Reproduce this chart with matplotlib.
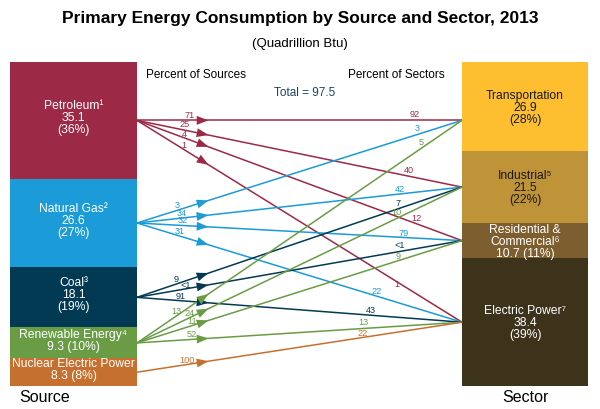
import matplotlib.pyplot as plt

plt.rcParams['font.family'] = ['Liberation Sans', 'DejaVu Sans']

# source side
sources = ["Petroleum¹", "Natural Gas²", "Coal³", "Renewable Energy⁴", "Nuclear Electric Power"]
source_values = [35.1, 26.6, 18.1, 9.3, 8.3]
source_pct = [36, 27, 19, 10, 8]

# sector side
sectors = ["Transportation", "Industrial⁵", "Residential &\nCommercial⁶", "Electric Power⁷"]
sector_values = [26.9, 21.5, 10.7, 38.4]
sector_pct = [28, 22, 11, 39]

# flows: source index -> sector index, percent of source, percent of sector
flow_source = [0, 0, 0, 0, 1, 1, 1, 1, 2, 2, 2, 3, 3, 3, 3, 4]
flow_sector = [0, 1, 2, 3, 0, 1, 2, 3, 1, 2, 3, 0, 1, 2, 3, 3]
pct_of_source = ["71", "25", "4", "1", "3", "34", "32", "31", "9", "<1", "91", "13", "24", "11", "52", "100"]
pct_of_sector = ["92", "40", "12", "1", "3", "42", "79", "22", "7", "<1", "43", "5", "10", "9", "13", "22"]

total = 97.5

source_colors = ["#9c2946", "#1b9bd7", "#033a53", "#6a9c46", "#c6702f"]
sector_colors = ["#fdbf2f", "#bf9338", "#7d5e2e", "#3d321a"]
sector_text = ["#1a1a1a", "#1a1a1a", "white", "white"]

# layout in pixel units
top, bottom = 62, 386
lx0, lx1 = 10, 137
rx0, rx1 = 462, 588
# placement of the flow labels (near source / near sector)
src_label_x = [190, 185, 184, 184, 177, 182, 183, 180, 176, 186, 181, 176, 190, 192, 192, 187]
src_label_dy = [-4.5, -6, -3, -4.5, -4.5, -4.5, -4.5, -4.5, -5, -3.5, -4.5, -4.5, -4.5, -4.5, -4.5, -4.5]
sec_label_x = [415, 409, 416, 397, 417, 400, 404, 377, 398, 400, 371, 421, 396, 398, 363, 363]
sec_label_dy = [-6, -6, -5, 3, -6, -4, -4, -5, -5, -6, -5, -6, -6, -4, -6, -4]

fig = plt.figure(figsize=(6, 4.09), dpi=100)
ax = fig.add_axes([0, 0, 1, 1])
ax.set_xlim(0, 600)
ax.set_ylim(409, 0)
ax.axis("off")


def stack(values):
    scale = (bottom - top) / sum(values)
    b = top
    out = []
    for v in values:
        out.append((b, v * scale))
        b += v * scale
    return out


src_boxes = stack(source_values)
sec_boxes = stack(sector_values)

for i, (b, h) in enumerate(src_boxes):
    ax.bar(lx0, h, bottom=b, width=lx1 - lx0, align="edge", color=source_colors[i], linewidth=0)
    if i < 3:
        label = f"{sources[i]}\n{source_values[i]}\n({source_pct[i]}%)"
    else:
        label = f"{sources[i]}\n{source_values[i]} ({source_pct[i]}%)"
    ax.text((lx0 + lx1) / 2, b + h / 2 - 2, label, ha="center", va="center",
            color="white", fontsize=8.7, linespacing=1.0)

for i, (b, h) in enumerate(sec_boxes):
    ax.bar(rx0, h, bottom=b, width=rx1 - rx0, align="edge", color=sector_colors[i], linewidth=0)
    if i == 2:
        label = f"{sectors[i]}\n{sector_values[i]} ({sector_pct[i]}%)"
    else:
        label = f"{sectors[i]}\n{sector_values[i]}\n({sector_pct[i]}%)"
    ax.text((rx0 + rx1) / 2, b + h / 2 + 1, label, ha="center", va="center",
            color=sector_text[i], fontsize=8.7, linespacing=1.0)

src_y = [b + h / 2 for b, h in src_boxes]
sec_y = [b + h / 2 for b, h in sec_boxes]
sec_y[0] = src_y[0]  # petroleum -> transportation runs level

for k in range(len(flow_source)):
    s, t = flow_source[k], flow_sector[k]
    c = source_colors[s]
    x0, y0 = lx1, src_y[s]
    x1, y1 = rx0, sec_y[t]
    slope = (y1 - y0) / (x1 - x0)
    ax.plot([x0, x1], [y0, y1], color=c, linewidth=1.1, solid_capstyle="butt")
    # arrow head
    f = 0.22
    hx, hy = x0 + f * (x1 - x0), y0 + f * (y1 - y0)
    tx, ty = x0 + (f - 0.03) * (x1 - x0), y0 + (f - 0.03) * (y1 - y0)
    ax.annotate("", xy=(hx, hy), xytext=(tx, ty),
                arrowprops=dict(arrowstyle="-|>,head_length=0.85,head_width=0.32",
                                color=c, lw=0, shrinkA=0, shrinkB=0))
    # percent of source label
    lx = src_label_x[k]
    ax.text(lx, y0 + slope * (lx - x0) + src_label_dy[k], pct_of_source[k],
            ha="center", va="center", color=c, fontsize=6.6)
    # percent of sector label
    lx = sec_label_x[k]
    ax.text(lx, y0 + slope * (lx - x0) + sec_label_dy[k], pct_of_sector[k],
            ha="center", va="center", color=c, fontsize=6.6)

ax.text(300, 18, "Primary Energy Consumption by Source and Sector, 2013",
        ha="center", va="center", fontsize=12.5, fontweight="bold", color="black")
ax.text(300, 44, "(Quadrillion Btu)", ha="center", va="center", fontsize=9.5)
ax.text(196, 75, "Percent of Sources", ha="center", va="center", fontsize=8.5)
ax.text(396, 75, "Percent of Sectors", ha="center", va="center", fontsize=8.5)
ax.text(305, 93, f"Total = {total}", ha="center", va="center", fontsize=8.5, color="#1c4462")
ax.text(45, 398, "Source", ha="center", va="center", fontsize=11.5)
ax.text(525, 398, "Sector", ha="center", va="center", fontsize=11.5)

fig.savefig("out.png", dpi=100)
